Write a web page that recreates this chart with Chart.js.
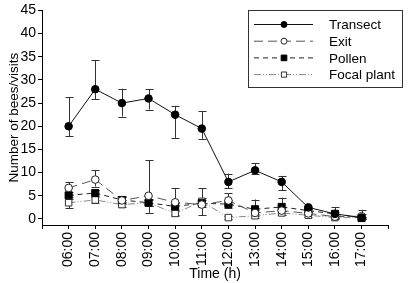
<!DOCTYPE html>
<html>
<head>
<meta charset="utf-8">
<script src="https://cdn.jsdelivr.net/npm/chart.js@4/dist/chart.umd.min.js"></script>
<style>
  html, body { margin: 0; padding: 0; background: #fff; }
  canvas { display: block; }
</style>
</head>
<body>
<canvas id="chart" width="408" height="283"></canvas>
<script>
// bees / visits per hour
const times = ['06:00', '07:00', '08:00', '09:00', '10:00', '11:00',
               '12:00', '13:00', '14:00', '15:00', '16:00', '17:00'];
const yTicks = [0, 5, 10, 15, 20, 25, 30, 35, 40, 45];

const transect   = [20, 28, 25, 26, 22.5, 19.5, 8, 10.5, 8, 2.5, 1.1, 0.3];
const transectLo = [17.8, 25.8, 22.1, 23.6, 17.5, 17.3, 6.6, 9.7, 6.2, 2.1, 0.2, 0];
const transectHi = [26.3, 34.3, 28.1, 28.0, 24.4, 23.3, 9.8, 12.0, 9.3, 2.9, 2.6, 2.0];

const exits   = [6.7, 8.5, 4, 5, 3.6, 3.1, 4, 1.3, 1.8, 1.2, 0.5, 0.6];
const exitsLo = [5.2, 7, 3.3, 1.3, 0.8, 0.8, 3, 0.7, 1.2, 0.8, 0.2, 0.2];
const exitsHi = [7.9, 10.5, 4.9, 12.7, 6.6, 6.6, 5.5, 2, 2.5, 1.6, 0.8, 1];

const pollen   = [5.1, 5.6, 4.1, 3.5, 2.7, 3.4, 3.2, 2.1, 2.6, 1.8, 1.1, 0.2];
const pollenLo = [4.3, 4.9, 3.4, 2.7, 2, 2.6, 2.4, 1.4, 1.8, 1.4, 0.7, 0];
const pollenHi = [5.9, 6.3, 4.8, 4.3, 3.4, 4.2, 4, 4.2, 4.6, 2.2, 1.5, 0.4];

const focal   = [3.5, 4.1, 3.1, 3.5, 1.2, 3.8, 0.3, 0.7, 1.3, 0.8, 0.3, 0.3];
const focalLo = [2.3, 3.5, 2.6, 2.8, 0.7, 3.1, 0, 0.3, 0.9, 0.5, 0.1, 0.1];
const focalHi = [4.7, 4.7, 3.6, 4.2, 1.7, 4.5, 0.6, 1.1, 1.7, 1.1, 0.5, 0.5];

const FONT = '"Liberation Sans", Arial, sans-serif';

function hour(label) {
    return parseInt(label, 10);
}

function toPoints(values) {
    return values.map((v, i) => ({ x: hour(times[i]), y: v }));
}

function makeSet(label, values, lo, hi, style) {
    return Object.assign({
        label: label,
        data: toPoints(values),
        errLo: lo,
        errHi: hi,
        borderWidth: 1,
        pointBorderWidth: 1,
        tension: 0,
        fill: false
    }, style);
}

const datasets = [
    makeSet('Transect', transect, transectLo, transectHi, {
        borderColor: '#111',
        pointStyle: 'circle',
        pointRadius: 3.8,
        pointBackgroundColor: '#000',
        pointBorderColor: '#000'
    }),
    makeSet('Exit', exits, exitsLo, exitsHi, {
        borderColor: '#555',
        borderDash: [9, 5],
        pointStyle: 'circle',
        pointRadius: 3.8,
        pointBackgroundColor: '#fff',
        pointBorderColor: '#222'
    }),
    makeSet('Pollen', pollen, pollenLo, pollenHi, {
        borderColor: '#222',
        borderDash: [5, 4],
        pointStyle: 'rect',
        pointRadius: 5,
        pointBackgroundColor: '#000',
        pointBorderColor: '#000'
    }),
    makeSet('Focal plant', focal, focalLo, focalHi, {
        borderColor: '#888',
        borderDash: [7, 2, 1, 2, 1, 2],
        pointStyle: 'rect',
        pointRadius: 4.6,
        pointBackgroundColor: '#fff',
        pointBorderColor: '#333'
    })
];

// error bars, drawn under the markers
const errorBars = {
    id: 'errorBars',
    beforeDatasetsDraw(chart) {
        const ctx = chart.ctx;
        const xs = chart.scales.x;
        const ys = chart.scales.y;
        ctx.save();
        ctx.strokeStyle = '#333';
        ctx.lineWidth = 1;
        chart.data.datasets.forEach(ds => {
            ds.data.forEach((p, i) => {
                const x = Math.round(xs.getPixelForValue(p.x)) + 0.5;
                const yLo = ys.getPixelForValue(ds.errLo[i]);
                const yHi = ys.getPixelForValue(ds.errHi[i]);
                ctx.beginPath();
                ctx.moveTo(x, yLo);
                ctx.lineTo(x, yHi);
                ctx.moveTo(x - 4, Math.round(yLo) + 0.5);
                ctx.lineTo(x + 4, Math.round(yLo) + 0.5);
                ctx.moveTo(x - 4, Math.round(yHi) + 0.5);
                ctx.lineTo(x + 4, Math.round(yHi) + 0.5);
                ctx.stroke();
            });
        });
        ctx.restore();
    }
};

// boxed legend with line + marker samples
const boxLegend = {
    id: 'boxLegend',
    afterDraw(chart) {
        const ctx = chart.ctx;
        const left = 248, top = 10, w = 154, h = 77;
        ctx.save();
        ctx.fillStyle = '#fff';
        ctx.fillRect(left, top, w, h);
        ctx.strokeStyle = '#333';
        ctx.lineWidth = 1;
        ctx.strokeRect(left + 0.5, top + 0.5, w, h);
        ctx.font = '13.5px ' + FONT;
        ctx.textBaseline = 'middle';
        chart.data.datasets.forEach((ds, i) => {
            const y = top + 14.5 + i * 16.7;
            ctx.strokeStyle = ds.borderColor;
            ctx.lineWidth = 1;
            ctx.setLineDash(ds.borderDash || []);
            ctx.beginPath();
            ctx.moveTo(left + 6, y);
            ctx.lineTo(left + 65, y);
            ctx.stroke();
            ctx.setLineDash([]);
            ctx.fillStyle = ds.pointBackgroundColor;
            ctx.strokeStyle = ds.pointBorderColor;
            Chart.helpers.drawPoint(ctx, {
                pointStyle: ds.pointStyle,
                radius: ds.pointStyle === 'rect' ? ds.pointRadius * 0.8 : 3,
                borderWidth: 1,
                rotation: 0
            }, left + 36, y);
            ctx.fillStyle = '#000';
            ctx.fillText(ds.label, left + 81, y + 1);
        });
        ctx.restore();
    }
};

new Chart(document.getElementById('chart'), {
    type: 'line',
    data: { datasets: datasets },
    plugins: [errorBars, boxLegend],
    options: {
        responsive: false,
        animation: false,
        devicePixelRatio: 1,
        layout: { padding: { top: 7, right: 3, bottom: 0, left: 0 } },
        plugins: {
            legend: { display: false },
            tooltip: { enabled: false }
        },
        scales: {
            x: {
                type: 'linear',
                min: 5,
                max: 18,
                afterBuildTicks(scale) {
                    const list = [{ value: 5 }];
                    times.forEach(t => list.push({ value: hour(t) }));
                    list.push({ value: 18 });
                    scale.ticks = list;
                },
                afterFit(scale) { scale.height = 58; },
                ticks: {
                    autoSkip: false,
                    minRotation: 90,
                    maxRotation: 90,
                    padding: 3,
                    color: '#000',
                    font: { family: FONT, size: 14 },
                    callback(value) {
                        const t = times.find(s => hour(s) === value);
                        return t || '';
                    }
                },
                grid: { drawOnChartArea: false, drawTicks: true, tickLength: 4, color: '#000' },
                border: { color: '#000', width: 1 },
                title: {
                    display: true,
                    text: 'Time (h)',
                    color: '#000',
                    font: { family: FONT, size: 14 },
                    padding: { top: 0, bottom: 0 }
                }
            },
            y: {
                min: -1.3,
                max: 45,
                afterBuildTicks(scale) {
                    scale.ticks = yTicks.map(v => ({ value: v }));
                },
                afterFit(scale) { scale.width = 42; },
                ticks: {
                    padding: 2,
                    color: '#000',
                    font: { family: FONT, size: 14 }
                },
                grid: { drawOnChartArea: false, drawTicks: true, tickLength: 4, color: '#000' },
                border: { color: '#000', width: 1 },
                title: {
                    display: true,
                    text: 'Number of bees/visits',
                    color: '#000',
                    font: { family: FONT, size: 13.5 },
                    padding: { top: 6, bottom: 0 }
                }
            }
        }
    }
});
</script>
</body>
</html>
